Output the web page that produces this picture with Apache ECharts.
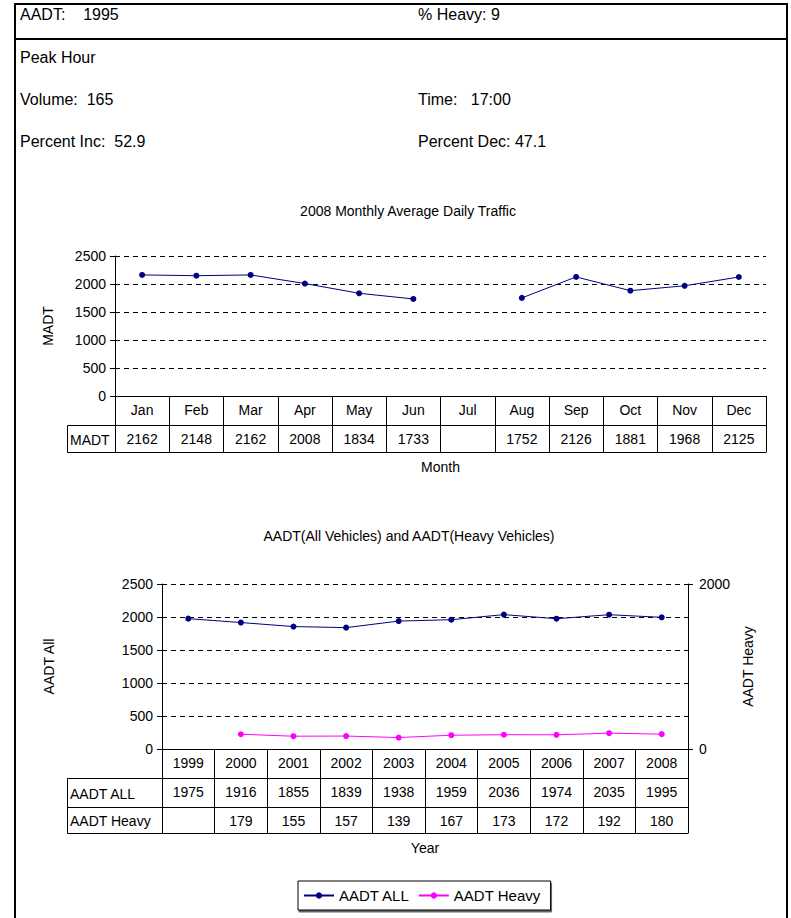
<!DOCTYPE html>
<html>
<head>
<meta charset="utf-8">
<script src="https://cdn.jsdelivr.net/npm/echarts@6/dist/echarts.min.js"></script>
<style>
  html, body { margin: 0; padding: 0; background: #fff; }
  body { width: 791px; height: 918px; position: relative; overflow: hidden; font-family: 'Liberation Sans', Arial, sans-serif; }
  #frame { position: absolute; left: 14px; top: 3px; width: 770px; height: 940px; border: 2px solid #000; box-sizing: content-box; }
  #sep { position: absolute; left: 14px; top: 38px; width: 772px; height: 2px; background: #000; }
  .t { position: absolute; font-size: 16px; color: #000; white-space: pre; line-height: 18px; }
  #chart { position: absolute; left: 0; top: 0; width: 791px; height: 918px; }
</style>
</head>
<body>
<div id="chart"></div>
<div id="frame"></div>
<div id="sep"></div>
<div class="t" style="left:20px;top:6px">AADT:    1995</div>
<div class="t" style="left:418px;top:6px">% Heavy: 9</div>
<div class="t" style="left:20px;top:49px">Peak Hour</div>
<div class="t" style="left:20px;top:91px">Volume:  165</div>
<div class="t" style="left:418px;top:91px">Time:   17:00</div>
<div class="t" style="left:20px;top:133px">Percent Inc:  52.9</div>
<div class="t" style="left:418px;top:133px">Percent Dec: 47.1</div>
<script>
// ---- data ----
const months = ['Jan','Feb','Mar','Apr','May','Jun','Jul','Aug','Sep','Oct','Nov','Dec'];
const madt = [2162, 2148, 2162, 2008, 1834, 1733, null, 1752, 2126, 1881, 1968, 2125];
const years = ['1999','2000','2001','2002','2003','2004','2005','2006','2007','2008'];
const aadtAll = [1975, 1916, 1855, 1839, 1938, 1959, 2036, 1974, 2035, 1995];
const aadtHeavy = [null, 179, 155, 157, 139, 167, 173, 172, 192, 180];
const title1 = '2008 Monthly Average Daily Traffic';
const title2 = 'AADT(All Vehicles) and AADT(Heavy Vehicles)';

// ---- layout ----
const FONT = "'Liberation Sans', Arial, sans-serif";
const FS = 14;
const G1 = { left: 115, top: 256, width: 651, height: 140 };
const G2 = { left: 162, top: 584, width: 526, height: 165 };
const TABLE_LEFT = 67;
const ROW1 = 29, ROW2 = 27;
const ROWB1 = 29, ROWB2 = 29, ROWB3 = 26;
const NAVY = '#000080', MAG = '#FF00FF', LINE = '#000';

function fmtVal(arr) { return (v, i) => (arr[i] == null ? '' : String(arr[i])); }
const plain = (v) => String(v);

function tableAxis(grid, cats, offset, rowH, labelFn, extra) {
  return Object.assign({
    type: 'category', gridIndex: grid, position: 'bottom', offset: offset,
    data: cats, boundaryGap: true,
    axisLine: { show: true, onZero: false, lineStyle: { color: LINE, width: 1 } },
    axisTick: { show: rowH > 0, length: rowH, interval: 0, inside: false, lineStyle: { color: LINE, width: 1 } },
    axisLabel: { show: !!labelFn, interval: 0, margin: 7, color: '#000', fontSize: FS, fontFamily: FONT,
      formatter: labelFn || undefined },
    splitLine: { show: false }
  }, extra || {});
}

const chart = echarts.init(document.getElementById('chart'), null, { renderer: 'svg', width: 791, height: 918 });

const dash = { color: '#000', type: [5, 4], width: 1 };
const nameStyle = { fontSize: FS, color: '#000', fontFamily: FONT };

const option = {
  animation: false,
  title: [
    { text: title1, left: 403, top: 199, textAlign: 'center',
      textStyle: { fontSize: 14, fontWeight: 'normal', color: '#000', fontFamily: FONT } },
    { text: title2, left: 404, top: 524, textAlign: 'center',
      textStyle: { fontSize: 14, fontWeight: 'normal', color: '#000', fontFamily: FONT } }
  ],
  legend: {
    data: ['AADT ALL', 'AADT Heavy'],
    left: 298, top: 881,
    padding: [7, 10, 7, 5], itemGap: 8, itemWidth: 30, itemHeight: 8,
    borderColor: '#000', borderWidth: 1, backgroundColor: '#fff',
    shadowColor: 'rgba(0,0,0,0.6)', shadowOffsetX: 1, shadowOffsetY: 2, shadowBlur: 0,
    textStyle: { fontSize: 15, color: '#000', fontFamily: FONT }
  },
  grid: [
    Object.assign({ containLabel: false }, G1),
    Object.assign({ containLabel: false }, G2)
  ],
  xAxis: [
    tableAxis(0, months, 0, ROW1, (v) => v),
    tableAxis(0, months, ROW1, ROW2, fmtVal(madt)),
    tableAxis(0, months, ROW1 + ROW2, 0, null, {
      name: 'Month', nameLocation: 'middle', nameGap: 8, nameTextStyle: nameStyle }),
    tableAxis(1, years, 0, ROWB1, (v) => v),
    tableAxis(1, years, ROWB1, ROWB2, fmtVal(aadtAll)),
    tableAxis(1, years, ROWB1 + ROWB2, ROWB3, fmtVal(aadtHeavy)),
    tableAxis(1, years, ROWB1 + ROWB2 + ROWB3, 0, null, {
      name: 'Year', nameLocation: 'middle', nameGap: 8, nameTextStyle: nameStyle })
  ],
  yAxis: [
    { type: 'value', gridIndex: 0, min: 0, max: 2500, interval: 500,
      name: 'MADT', nameLocation: 'middle', nameGap: 60, nameRotate: 90, nameTextStyle: nameStyle,
      axisLine: { show: true, lineStyle: { color: LINE } },
      axisTick: { show: true, length: 5, lineStyle: { color: LINE } },
      axisLabel: { color: '#000', fontSize: FS, fontFamily: FONT, margin: 9, formatter: plain },
      splitLine: { show: true, lineStyle: dash } },
    { type: 'value', gridIndex: 1, min: 0, max: 2500, interval: 500, position: 'left',
      name: 'AADT All', nameLocation: 'middle', nameGap: 106, nameRotate: 90, nameTextStyle: nameStyle,
      axisLine: { show: true, lineStyle: { color: LINE } },
      axisTick: { show: true, length: 5, lineStyle: { color: LINE } },
      axisLabel: { color: '#000', fontSize: FS, fontFamily: FONT, margin: 9, formatter: plain },
      splitLine: { show: true, lineStyle: dash } },
    { type: 'value', gridIndex: 1, min: 0, max: 2000, interval: 2000, position: 'right',
      name: 'AADT Heavy', nameLocation: 'middle', nameGap: 52, nameRotate: 90, nameTextStyle: nameStyle,
      axisLine: { show: true, lineStyle: { color: LINE } },
      axisTick: { show: true, length: 5, lineStyle: { color: LINE } },
      axisLabel: { color: '#000', fontSize: FS, fontFamily: FONT, margin: 11, formatter: plain },
      splitLine: { show: false } }
  ],
  series: [
    { name: 'MADT', type: 'line', xAxisIndex: 0, yAxisIndex: 0, data: madt,
      connectNulls: false, symbol: 'circle', symbolSize: 6,
      itemStyle: { color: NAVY }, lineStyle: { color: NAVY, width: 1 } },
    { name: 'AADT ALL', type: 'line', xAxisIndex: 3, yAxisIndex: 1, data: aadtAll,
      symbol: 'circle', symbolSize: 6,
      itemStyle: { color: NAVY }, lineStyle: { color: NAVY, width: 1 } },
    { name: 'AADT Heavy', type: 'line', xAxisIndex: 3, yAxisIndex: 2, data: aadtHeavy,
      connectNulls: false, symbol: 'circle', symbolSize: 6,
      itemStyle: { color: MAG }, lineStyle: { color: MAG, width: 1 } }
  ],
  graphic: [
    { type: 'rect', silent: true,
      shape: { x: TABLE_LEFT + 0.5, y: G1.top + G1.height + ROW1 + 0.5, width: G1.left - TABLE_LEFT, height: ROW2 },
      style: { fill: 'none', stroke: LINE, lineWidth: 1 } },
    { type: 'text', silent: true, x: TABLE_LEFT + 3, y: G1.top + G1.height + ROW1 + ROW2 / 2 + 1,
      style: { text: 'MADT', fill: '#000', font: FS + 'px ' + FONT, verticalAlign: 'middle' } },
    { type: 'rect', silent: true,
      shape: { x: TABLE_LEFT + 0.5, y: G2.top + G2.height + ROWB1 + 0.5, width: G2.left - TABLE_LEFT, height: ROWB2 + ROWB3 },
      style: { fill: 'none', stroke: LINE, lineWidth: 1 } },
    { type: 'line', silent: true,
      shape: { x1: TABLE_LEFT, y1: G2.top + G2.height + ROWB1 + ROWB2 + 0.5, x2: G2.left, y2: G2.top + G2.height + ROWB1 + ROWB2 + 0.5 },
      style: { stroke: LINE, lineWidth: 1 } },
    { type: 'text', silent: true, x: TABLE_LEFT + 3, y: G2.top + G2.height + ROWB1 + ROWB2 / 2 + 1,
      style: { text: 'AADT ALL', fill: '#000', font: FS + 'px ' + FONT, verticalAlign: 'middle' } },
    { type: 'text', silent: true, x: TABLE_LEFT + 3, y: G2.top + G2.height + ROWB1 + ROWB2 + ROWB3 / 2 + 1,
      style: { text: 'AADT Heavy', fill: '#000', font: FS + 'px ' + FONT, verticalAlign: 'middle' } }
  ]
};
chart.setOption(option);
</script>
</body>
</html>
